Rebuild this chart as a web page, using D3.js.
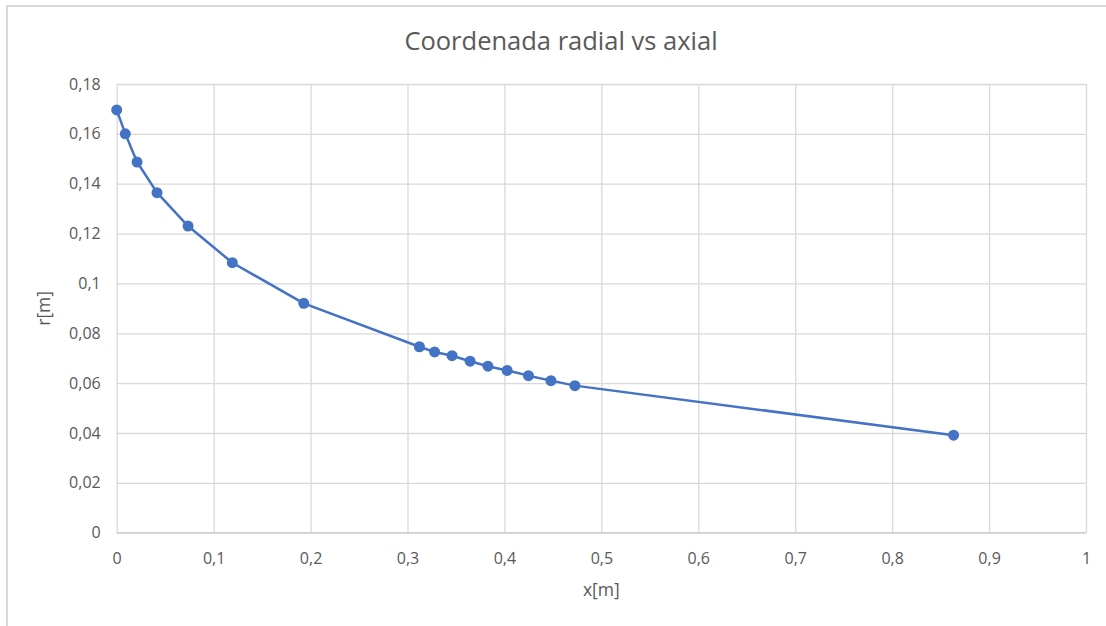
<!DOCTYPE html>
<html>
<head>
<meta charset="utf-8">
<script src="https://cdn.jsdelivr.net/npm/d3@7"></script>
<style>
  html, body { margin: 0; padding: 0; background: #fff; }
  svg { display: block; }
  text { font-family: "Open Sans", "Liberation Sans", sans-serif; }
</style>
</head>
<body>
<svg id="chart" width="1106" height="626"></svg>
<script>
// Axial coordinate x [m]
const xValues = [0, 0.0089, 0.021, 0.0416, 0.0736, 0.1193, 0.193, 0.3123, 0.328, 0.346, 0.3646, 0.383, 0.4028, 0.4248, 0.448, 0.4727, 0.8634];
// Radial coordinate r [m]
const rValues = [0.1696, 0.160, 0.1487, 0.1364, 0.123, 0.1083, 0.092, 0.0746, 0.0725, 0.071, 0.0688, 0.0668, 0.0651, 0.063, 0.061, 0.059, 0.0391];
const xTicks = [0, 0.1, 0.2, 0.3, 0.4, 0.5, 0.6, 0.7, 0.8, 0.9, 1];
const yTicks = [0, 0.02, 0.04, 0.06, 0.08, 0.1, 0.12, 0.14, 0.16, 0.18];

const chartTitle = "Coordenada radial vs axial";
const xTitle = "x[m]";
const yTitle = "r[m]";

const points = xValues.map((x, i) => ({ x, r: rValues[i] }));

const locale = d3.formatLocale({ decimal: ",", thousands: ".", grouping: [3], currency: ["", "€"] });
const fmt = v => locale.format("~g")(+v.toFixed(4));

const svg = d3.select("#chart");

const x = d3.scaleLinear().domain([0, 1]).range([116.7, 1086]);
const y = d3.scaleLinear().domain([0, 0.18]).range([532.7, 84]);

// Outer frame (top and left edges)
svg.append("path")
  .attr("d", "M7,626 V6 H1106")
  .attr("fill", "none")
  .attr("stroke", "#d9d9d9")
  .attr("stroke-width", 2);

const gridColor = "#d9d9d9";
const labelColor = "#595959";

// Horizontal gridlines with tick labels
const yAxis = d3.axisLeft(y).tickValues(yTicks).tickSize(-(x.range()[1] - x.range()[0])).tickPadding(16).tickFormat(fmt);
const gy = svg.append("g").attr("transform", `translate(${x(0)},0)`).call(yAxis);
gy.select(".domain").remove();
gy.selectAll(".tick line").attr("stroke", gridColor).attr("stroke-width", 1.3);
gy.selectAll(".tick text").attr("fill", labelColor).style("font-size", "16px");

// Vertical gridlines with tick labels
const xAxis = d3.axisBottom(x).tickValues(xTicks).tickSize(-(y.range()[0] - y.range()[1])).tickPadding(20).tickFormat(fmt);
const gx = svg.append("g").attr("transform", `translate(0,${y(0)})`).call(xAxis);
gx.select(".domain").remove();
gx.selectAll(".tick line").attr("stroke", gridColor).attr("stroke-width", 1.3);
gx.selectAll(".tick text").attr("fill", labelColor).style("font-size", "16px");

// Bottom axis line
svg.append("line")
  .attr("x1", x(0)).attr("x2", x(1))
  .attr("y1", y(0)).attr("y2", y(0))
  .attr("stroke", "#d0d0d0").attr("stroke-width", 1.5);

// Series line
const line = d3.line().x(d => x(d.x)).y(d => y(d.r));
svg.append("path")
  .datum(points)
  .attr("d", line)
  .attr("fill", "none")
  .attr("stroke", "#4472C4")
  .attr("stroke-width", 2.5)
  .attr("stroke-linejoin", "round");

// Markers
svg.append("g").selectAll("circle")
  .data(points)
  .join("circle")
  .attr("cx", d => x(d.x))
  .attr("cy", d => y(d.r))
  .attr("r", 5.5)
  .attr("fill", "#4472C4");

// Titles
svg.append("text")
  .attr("x", 561).attr("y", 50)
  .attr("text-anchor", "middle")
  .attr("fill", labelColor)
  .style("font-size", "25.5px")
  .text(chartTitle);

svg.append("text")
  .attr("x", (x(0) + x(1)) / 2).attr("y", 596)
  .attr("text-anchor", "middle")
  .attr("fill", labelColor)
  .style("font-size", "17.5px")
  .text(xTitle);

svg.append("text")
  .attr("transform", `translate(50,${(y(0) + y(0.18)) / 2}) rotate(-90)`)
  .attr("text-anchor", "middle")
  .attr("fill", labelColor)
  .style("font-size", "17.5px")
  .text(yTitle);
</script>
</body>
</html>
